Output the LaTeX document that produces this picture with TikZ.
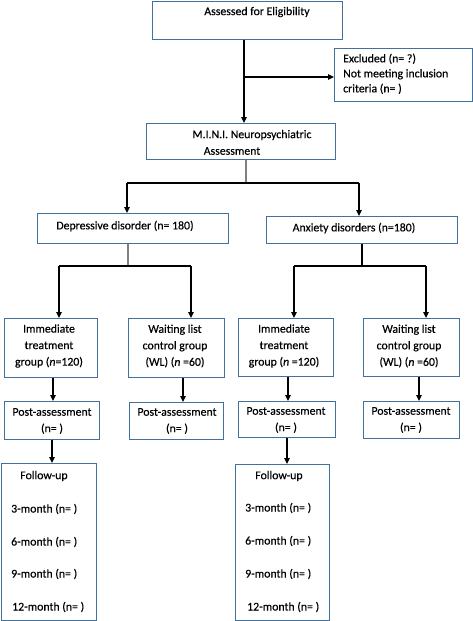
\documentclass[tikz,border=0pt]{standalone}
\usepackage{fontspec}
\setmainfont{Carlito}[FakeBold=0.4]
\usetikzlibrary{arrows.meta}
\definecolor{boxblue}{RGB}{65,113,156}
\definecolor{lgrey}{RGB}{128,128,128}
\tikzset{
  box/.style={draw=boxblue, line width=0.9pt, fill=white, inner sep=0pt, anchor=north west},
  txt/.style={inner sep=0pt, font=\fontsize{11.8}{13}\selectfont},
  ml/.style={txt, align=center, font=\fontsize{11.8}{16.5}\selectfont},
  conn/.style={draw=black, line width=1.1pt},
  arr/.style={conn, -{Triangle[length=6pt,width=5.5pt]}},
}
\newcommand{\bx}[5]{\node[box, minimum width=#4-#2, minimum height=#5-#3] (#1) at (#2,#3) {};}
\begin{document}
\begin{tikzpicture}[x=1pt,y=-1pt]
\useasboundingbox (0,0) rectangle (473,621);
% boxes
\bx{top}{152}{1}{342}{39}
\bx{excl}{334}{48}{472}{101}
\bx{mini}{146}{123}{335}{159}
\bx{dep}{37}{213}{228}{243}
\bx{anx}{266}{216}{457}{243}
\bx{il}{4}{318}{97}{377}
\bx{wl}{128}{318}{224}{377}
\bx{ir}{238}{318}{333}{376}
\bx{wr}{363}{318}{459}{376}
\bx{pl}{4}{401}{99}{439}
\bx{pw}{129}{402}{223}{439}
\bx{pr}{238}{401}{335}{437}
\bx{px}{363}{401}{459}{438}
\bx{fl}{0.5}{463}{96}{620}
\bx{fr}{235}{464}{329}{620}
% texts
\node[txt] (t1) at (257,12) {Assessed for Eligibility};
\node[txt, anchor=north west, align=left, font=\fontsize{11.8}{15}\selectfont] (t2) at (343,53.5) {Excluded (n= ?)\\Not meeting inclusion\\criteria (n= )};
\node[txt] (t3) at (252,135) {M.I.N.I. Neuropsychiatric};
\node[txt] (t4) at (232,151) {Assessment};
\node[txt] (t5) at (125,226) {Depressive disorder (n= 180)};
\node[txt] (t6) at (354,228) {Anxiety disorders (n=180)};
\node[ml] (t7) at (49,346) {Immediate\\treatment\\group (\textit{n}=120)};
\node[ml] (t8) at (175,346) {Waiting list\\control group\\(WL) (\textit{n} =60)};
\node[ml] (t9) at (284,346) {Immediate\\treatment\\group (\textit{n} =120)};
\node[ml] (t10) at (409,346) {Waiting list\\control group\\(WL) (\textit{n} =60)};
\node[ml] (t11) at (52,421) {Post-assessment\\(n= )};
\node[ml] (t12) at (177,421) {Post-assessment\\(n= )};
\node[ml] (t13) at (286,420) {Post-assessment\\(n= )};
\node[ml] (t14) at (411,420) {Post-assessment\\(n= )};
\node[txt] (f1) at (44,476) {Follow-up};
\node[txt, anchor=west] (f2) at (11,509) {3-month (n= )};
\node[txt, anchor=west] (f3) at (11,542) {6-month (n= )};
\node[txt, anchor=west] (f4) at (11,574) {9-month (n= )};
\node[txt, anchor=west] (f5) at (12,607) {12-month (n= )};
\node[txt] (g1) at (279,476) {Follow-up};
\node[txt, anchor=west] (g2) at (245,508) {3-month (n= )};
\node[txt, anchor=west] (g3) at (245,541) {6-month (n= )};
\node[txt, anchor=west] (g4) at (245,574) {9-month (n= )};
\node[txt, anchor=west] (g5) at (247,607) {12-month (n= )};
% connector coordinates
\coordinate (c1) at (244,77);
\coordinate (c2) at (246,183);
\coordinate (c2l) at (127,183);
\coordinate (c2r) at (359,183);
\coordinate (c3) at (128,266);
\coordinate (c3l) at (59,266);
\coordinate (c3r) at (191,266);
\coordinate (c4) at (362,266);
\coordinate (c4l) at (294,266);
\coordinate (c4r) at (426,266);
\coordinate (x1) at (53,0);
\coordinate (x2) at (183,0);
\coordinate (x3) at (288,0);
\coordinate (x4) at (419,0);
\coordinate (x5) at (52,0);
\coordinate (x6) at (287,0);
% connectors
\draw[arr] (top.south -| c1) -- (mini.north -| c1);
\draw[arr] (c1) -- (excl.west |- c1);
\draw[conn, draw=lgrey] (mini.south -| c2) -- (c2);
\draw[conn] (c2l) -- (c2r);
\draw[arr] (c2l) -- (dep.north -| c2l);
\draw[arr] (c2r) -- (anx.north -| c2r);
\draw[conn, draw=lgrey] (dep.south -| c3) -- (c3);
\draw[conn] (c3l) -- (c3r);
\draw[arr] (c3l) -- (il.north -| c3l);
\draw[arr] (c3r) -- (wl.north -| c3r);
\draw[conn] (anx.south -| c4) -- (c4);
\draw[conn] (c4l) -- (c4r);
\draw[arr] (c4l) -- (ir.north -| c4l);
\draw[arr] (c4r) -- (wr.north -| c4r);
\draw[arr] (il.south -| x1) -- (pl.north -| x1);
\draw[arr] (wl.south -| x2) -- (pw.north -| x2);
\draw[arr] (ir.south -| x3) -- (pr.north -| x3);
\draw[arr] (wr.south -| x4) -- (px.north -| x4);
\draw[arr] (pl.south -| x5) -- (fl.north -| x5);
\draw[arr] (pr.south -| x6) -- (fr.north -| x6);
\end{tikzpicture}
\end{document}
